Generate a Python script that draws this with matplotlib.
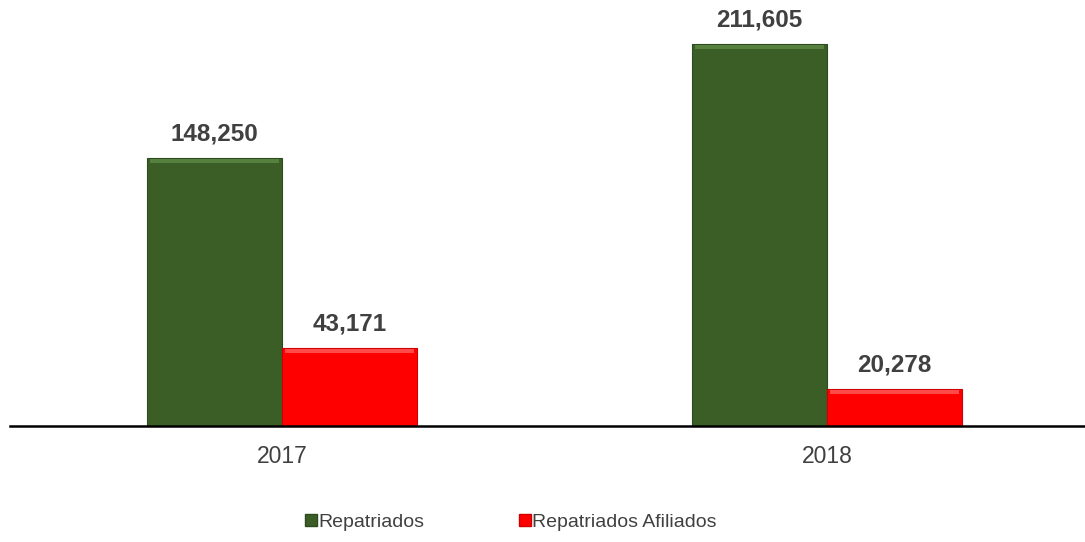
import matplotlib
matplotlib.use("Agg")
import matplotlib.pyplot as plt
from matplotlib.lines import Line2D
import numpy as np

plt.rcParams['font.family'] = ['Liberation Sans', 'DejaVu Sans']

years = ["2017", "2018"]
repatriados = [148250, 211605]
afiliados = [43171, 20278]
series_names = ["Repatriados", "Repatriados Afiliados"]

green = "#3B5E27"
red = "#FF0000"
label_color = "#404040"

fig = plt.figure(figsize=(10.85, 5.42), dpi=100)
ax = fig.add_axes([10 / 1085, 116 / 542, 1075 / 1085, 426 / 542])

x = np.arange(len(years))
width = 0.248

b1 = ax.bar(x - width / 2, repatriados, width, color=green, edgecolor="#2E4A1F",
            linewidth=0.8, label=series_names[0])
b2 = ax.bar(x + width / 2, afiliados, width, color=red, edgecolor="#D00000",
            linewidth=0.8, label=series_names[1])

# subtle bevel highlight along the top of each bar
for bars, light in ((b1, "#55803D"), (b2, "#FF4A4A")):
    for r in bars:
        h = r.get_height()
        ax.add_patch(plt.Rectangle((r.get_x() + 0.006, h - 2600), r.get_width() - 0.012, 2000,
                                   color=light, lw=0, zorder=3))

for bars, vals in ((b1, repatriados), (b2, afiliados)):
    for r, v in zip(bars, vals):
        ax.annotate(f"{v:,}", (r.get_x() + r.get_width() / 2, v), xytext=(0, 9),
                    textcoords="offset points", ha="center", va="bottom",
                    fontsize=17.5, fontweight="bold", color=label_color)

ax.set_xlim(-272 / 545, 1 + 258 / 545)
ax.set_ylim(0, 211605 * 426 / 382)
ax.set_xticks(x)
ax.set_xticklabels(years, fontsize=16.5, color=label_color)
ax.tick_params(axis="x", length=0, pad=14)
ax.set_yticks([])
for s in ("top", "right", "left"):
    ax.spines[s].set_visible(False)
ax.spines["bottom"].set_linewidth(1.8)
ax.spines["bottom"].set_color("black")

handles = [Line2D([], [], marker="s", linestyle="none", markersize=8,
                  markerfacecolor=c, markeredgecolor=e)
           for c, e in ((green, "#2E4A1F"), (red, "#D00000"))]
fig.legend(handles, series_names, loc="center", bbox_to_anchor=(511 / 1085, 1 - 522 / 542),
           ncol=2, frameon=False, fontsize=14, handlelength=0.6, handletextpad=0.05,
           columnspacing=4.9, labelcolor=label_color)

fig.savefig("out.png", dpi=100)
